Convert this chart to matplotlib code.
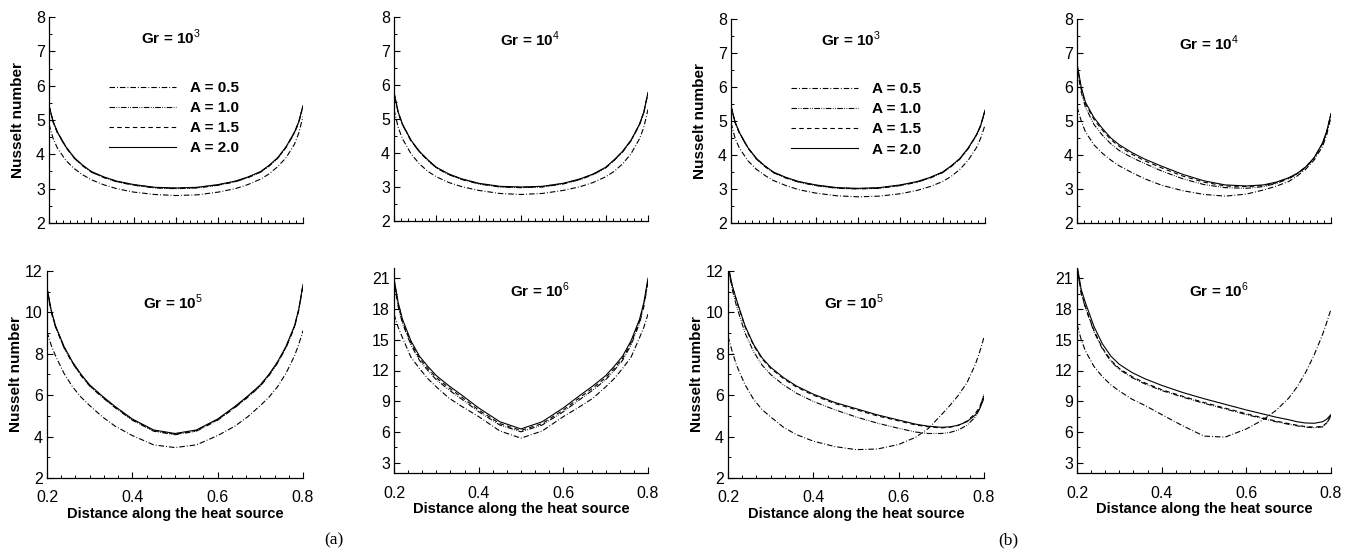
import matplotlib
matplotlib.use("Agg")
import matplotlib.pyplot as plt
from matplotlib.ticker import MultipleLocator, AutoMinorLocator

plt.rcParams["font.family"] = ["Liberation Sans", "DejaVu Sans"]
plt.rcParams["mathtext.fontset"] = "custom"
plt.rcParams["mathtext.rm"] = "Liberation Sans"

# Distance along the heat source (shared by every curve).
x = [0.20, 0.21, 0.22, 0.24, 0.26, 0.28, 0.30, 0.33, 0.36, 0.40, 0.45, 0.50,
     0.55, 0.60, 0.64, 0.67, 0.70, 0.72, 0.74, 0.76, 0.78, 0.79, 0.80]

aspect_labels = ["A = 0.5", "A = 1.0", "A = 1.5", "A = 2.0"]

# (a) Gr = 10^3
a_gr3_a05 = [4.88, 4.45, 4.18, 3.82, 3.58, 3.40, 3.26, 3.11, 3.00, 2.90, 2.83, 2.80,
             2.82, 2.90, 3.00, 3.12, 3.28, 3.43, 3.64, 3.90, 4.30, 4.62, 5.10]
a_gr3_a10 = [5.40, 4.93, 4.62, 4.20, 3.88, 3.66, 3.48, 3.32, 3.20, 3.10, 3.02, 3.00,
             3.02, 3.10, 3.20, 3.32, 3.48, 3.66, 3.88, 4.20, 4.62, 4.93, 5.40]
a_gr3_a15 = [5.41, 4.94, 4.64, 4.21, 3.89, 3.67, 3.49, 3.33, 3.21, 3.11, 3.03, 3.01,
             3.03, 3.11, 3.21, 3.33, 3.49, 3.67, 3.89, 4.21, 4.64, 4.94, 5.41]
a_gr3_a20 = [5.42, 4.95, 4.65, 4.22, 3.90, 3.68, 3.50, 3.34, 3.22, 3.12, 3.04, 3.02,
             3.04, 3.12, 3.22, 3.34, 3.50, 3.68, 3.90, 4.22, 4.65, 4.95, 5.42]

# (a) Gr = 10^4
a_gr4_a05 = [5.28, 4.75, 4.42, 3.98, 3.68, 3.46, 3.30, 3.13, 3.01, 2.90, 2.81, 2.78,
             2.81, 2.90, 3.01, 3.13, 3.30, 3.46, 3.68, 3.98, 4.42, 4.75, 5.28]
a_gr4_a10 = [5.76, 5.18, 4.83, 4.36, 4.03, 3.78, 3.56, 3.36, 3.22, 3.09, 3.00, 2.98,
             3.00, 3.09, 3.22, 3.36, 3.56, 3.78, 4.03, 4.36, 4.83, 5.18, 5.76]
a_gr4_a15 = [5.77, 5.19, 4.84, 4.37, 4.04, 3.79, 3.57, 3.37, 3.23, 3.10, 3.01, 2.99,
             3.01, 3.10, 3.23, 3.37, 3.57, 3.79, 4.04, 4.37, 4.84, 5.19, 5.77]
a_gr4_a20 = [5.78, 5.20, 4.85, 4.38, 4.05, 3.80, 3.58, 3.38, 3.24, 3.11, 3.02, 3.00,
             3.02, 3.11, 3.24, 3.38, 3.58, 3.80, 4.05, 4.38, 4.85, 5.20, 5.78]

# (a) Gr = 10^5
a_gr5_a05 = [9.07, 8.40, 7.90, 7.05, 6.40, 5.90, 5.50, 4.95, 4.50, 4.05, 3.60, 3.47,
             3.60, 4.05, 4.50, 4.95, 5.50, 5.90, 6.40, 7.05, 7.90, 8.45, 9.12]
a_gr5_a10 = [11.1, 10.0, 9.28, 8.28, 7.54, 6.94, 6.44, 5.89, 5.39, 4.79, 4.26, 4.09,
             4.26, 4.79, 5.39, 5.89, 6.44, 6.94, 7.54, 8.28, 9.28, 10.1, 11.3]
a_gr5_a15 = [11.15, 10.05, 9.32, 8.32, 7.57, 6.97, 6.47, 5.92, 5.42, 4.82, 4.29, 4.12,
             4.29, 4.82, 5.42, 5.92, 6.47, 6.97, 7.57, 8.32, 9.32, 10.12, 11.32]
a_gr5_a20 = [11.2, 10.1, 9.35, 8.35, 7.60, 7.00, 6.50, 5.95, 5.45, 4.85, 4.32, 4.15,
             4.32, 4.85, 5.45, 5.95, 6.50, 7.00, 7.60, 8.35, 9.35, 10.15, 11.35]

# (a) Gr = 10^6
a_gr6_a05 = [17.5, 16.2, 15.2, 13.3, 12.2, 11.2, 10.4, 9.3, 8.5, 7.5, 6.1, 5.4,
             6.1, 7.5, 8.5, 9.3, 10.4, 11.2, 12.2, 13.3, 15.2, 16.2, 17.5]
a_gr6_a10 = [20.6, 18.2, 16.6, 14.5, 13.0, 12.0, 11.1, 10.1, 9.2, 7.98, 6.68, 6.02,
             6.68, 7.98, 9.2, 10.1, 11.1, 12.0, 13.0, 14.5, 16.6, 18.2, 20.6]
a_gr6_a15 = [20.8, 18.4, 16.8, 14.7, 13.2, 12.2, 11.3, 10.3, 9.4, 8.15, 6.82, 6.15,
             6.82, 8.15, 9.4, 10.3, 11.3, 12.2, 13.2, 14.7, 16.8, 18.4, 20.8]
a_gr6_a20 = [21.0, 18.6, 17.0, 14.9, 13.4, 12.4, 11.5, 10.5, 9.6, 8.35, 7.0, 6.3,
             7.0, 8.35, 9.6, 10.5, 11.5, 12.4, 13.4, 14.9, 17.0, 18.6, 21.0]

# (b) Gr = 10^3
b_gr3_a05 = [4.95, 4.48, 4.20, 3.83, 3.58, 3.40, 3.25, 3.10, 2.98, 2.88, 2.80, 2.77,
             2.79, 2.86, 2.96, 3.07, 3.22, 3.37, 3.57, 3.84, 4.22, 4.50, 4.88]
b_gr3_a10 = [5.42, 4.94, 4.64, 4.20, 3.88, 3.66, 3.48, 3.32, 3.20, 3.10, 3.02, 3.00,
             3.02, 3.10, 3.20, 3.32, 3.48, 3.66, 3.87, 4.18, 4.58, 4.86, 5.30]
b_gr3_a15 = [5.43, 4.95, 4.65, 4.21, 3.89, 3.67, 3.49, 3.33, 3.21, 3.11, 3.03, 3.01,
             3.03, 3.11, 3.21, 3.33, 3.49, 3.67, 3.88, 4.19, 4.59, 4.87, 5.31]
b_gr3_a20 = [5.44, 4.96, 4.66, 4.22, 3.90, 3.68, 3.50, 3.34, 3.22, 3.12, 3.04, 3.02,
             3.04, 3.12, 3.22, 3.34, 3.50, 3.68, 3.89, 4.20, 4.60, 4.88, 5.32]

# (b) Gr = 10^4
b_gr4_a05 = [5.42, 5.00, 4.68, 4.30, 4.05, 3.85, 3.68, 3.48, 3.30, 3.11, 2.95, 2.84,
             2.79, 2.85, 2.97, 3.08, 3.22, 3.38, 3.58, 3.85, 4.25, 4.60, 5.12]
b_gr4_a10 = [6.55, 5.85, 5.40, 4.90, 4.58, 4.33, 4.13, 3.92, 3.75, 3.53, 3.30, 3.13,
             3.04, 3.02, 3.07, 3.16, 3.30, 3.44, 3.63, 3.90, 4.33, 4.68, 5.20]
b_gr4_a15 = [6.65, 5.95, 5.50, 5.05, 4.73, 4.45, 4.25, 4.02, 3.83, 3.62, 3.38, 3.20,
             3.09, 3.07, 3.10, 3.18, 3.32, 3.45, 3.64, 3.91, 4.34, 4.69, 5.21]
b_gr4_a20 = [6.70, 6.00, 5.55, 5.10, 4.78, 4.50, 4.30, 4.07, 3.88, 3.67, 3.43, 3.24,
             3.12, 3.09, 3.12, 3.20, 3.33, 3.46, 3.65, 3.92, 4.35, 4.70, 5.22]

# (b) Gr = 10^5
b_gr5_a05 = [8.85, 8.10, 7.45, 6.50, 5.80, 5.30, 4.95, 4.45, 4.10, 3.78, 3.52, 3.37,
             3.40, 3.62, 3.97, 4.40, 5.05, 5.50, 6.00, 6.60, 7.50, 8.10, 8.80]
b_gr5_a10 = [12.2, 11.1, 10.3, 9.00, 8.10, 7.45, 7.00, 6.50, 6.10, 5.70, 5.30, 4.95,
             4.65, 4.40, 4.22, 4.15, 4.15, 4.20, 4.32, 4.55, 4.95, 5.35, 6.05]
b_gr5_a15 = [12.25, 11.25, 10.55, 9.30, 8.40, 7.75, 7.30, 6.80, 6.40, 6.00, 5.60, 5.30,
             5.00, 4.76, 4.56, 4.47, 4.42, 4.45, 4.55, 4.75, 5.12, 5.45, 5.98]
b_gr5_a20 = [12.3, 11.3, 10.6, 9.35, 8.45, 7.80, 7.35, 6.85, 6.45, 6.05, 5.65, 5.35,
             5.05, 4.80, 4.60, 4.50, 4.45, 4.47, 4.55, 4.72, 5.05, 5.35, 5.85]

# (b) Gr = 10^6
b_gr6_a05 = [16.5, 15.0, 13.9, 12.4, 11.4, 10.6, 10.0, 9.2, 8.6, 7.7, 6.6, 5.6,
             5.5, 6.3, 7.2, 8.1, 9.3, 10.4, 11.8, 13.5, 15.5, 16.7, 18.0]
b_gr6_a10 = [22.0, 19.5, 18.1, 15.8, 14.1, 12.9, 12.1, 11.3, 10.7, 10.05, 9.4, 8.8,
             8.25, 7.7, 7.3, 7.0, 6.75, 6.6, 6.48, 6.42, 6.5, 6.85, 7.6]
b_gr6_a15 = [22.1, 19.6, 18.2, 15.9, 14.2, 13.0, 12.2, 11.4, 10.8, 10.13, 9.48, 8.88,
             8.33, 7.78, 7.37, 7.07, 6.82, 6.66, 6.53, 6.47, 6.55, 6.9, 7.62]
b_gr6_a20 = [22.3, 19.9, 18.6, 16.3, 14.6, 13.4, 12.6, 11.8, 11.2, 10.55, 9.85, 9.25,
             8.7, 8.15, 7.75, 7.45, 7.2, 7.0, 6.88, 6.85, 7.0, 7.25, 7.7]

# Line styles: dash-dot, dash-dot-dot, dashed, solid.
line_styles = [
    (0, (5, 1.8, 0.8, 1.8)),
    (0, (5, 1.3, 0.7, 1.3, 0.7, 1.3)),
    (0, (4, 3)),
    "-",
]

# Panel boxes in pixels (left, top, right, bottom) of a 1355x555 figure.
W, H = 1355, 555
panels = [
    # box, curves, Gr exponent, text x, text y, row
    ((49, 17, 303, 223), [a_gr3_a05, a_gr3_a10, a_gr3_a15, a_gr3_a20], 3, 0.48, 0.90, "top"),
    ((394, 17, 648, 221), [a_gr4_a05, a_gr4_a10, a_gr4_a15, a_gr4_a20], 4, 0.535, 0.89, "top"),
    ((47, 271, 303, 478), [a_gr5_a05, a_gr5_a10, a_gr5_a15, a_gr5_a20], 5, 0.49, 0.85, "left"),
    ((394, 268, 648, 473), [a_gr6_a05, a_gr6_a10, a_gr6_a15, a_gr6_a20], 6, 0.575, 0.89, "right"),
    ((731, 19, 985, 223), [b_gr3_a05, b_gr3_a10, b_gr3_a15, b_gr3_a20], 3, 0.47, 0.90, "top"),
    ((1077, 19, 1331, 223), [b_gr4_a05, b_gr4_a10, b_gr4_a15, b_gr4_a20], 4, 0.52, 0.88, "top"),
    ((728, 271, 984, 478), [b_gr5_a05, b_gr5_a10, b_gr5_a15, b_gr5_a20], 5, 0.49, 0.85, "left"),
    ((1077, 268, 1331, 473), [b_gr6_a05, b_gr6_a10, b_gr6_a15, b_gr6_a20], 6, 0.56, 0.89, "right"),
]

fig = plt.figure(figsize=(W / 100, H / 100), dpi=100)

for i, (box, curves, gr, tx, ty, row) in enumerate(panels):
    l, t, r, b = box
    ax = fig.add_axes([l / W, (H - b) / H, (r - l) / W, (b - t) / H])

    for vals, ls, lab in zip(curves, line_styles, aspect_labels):
        ax.plot(x, vals, color="black", lw=0.8, linestyle=ls, label=lab)

    ax.set_xlim(0.2, 0.8)
    if row == "top":
        ax.set_ylim(2, 8)
        ax.yaxis.set_major_locator(MultipleLocator(1))
        ax.yaxis.set_minor_locator(MultipleLocator(0.5))
        ax.xaxis.set_major_locator(MultipleLocator(0.1))
        ax.xaxis.set_minor_locator(AutoMinorLocator(6))
        ax.set_xticklabels([])
    else:
        if row == "left":
            ax.set_ylim(2, 12)
            ax.yaxis.set_major_locator(MultipleLocator(2))
            ax.yaxis.set_minor_locator(MultipleLocator(1))
        else:
            ax.set_ylim(2, 22)
            ax.set_yticks([3, 6, 9, 12, 15, 18, 21])
            ax.yaxis.set_minor_locator(MultipleLocator(1.5))
        ax.set_xticks([0.2, 0.4, 0.6, 0.8])
        ax.set_xticklabels(["0.2", "0.4", "0.6", "0.8"])
        ax.xaxis.set_minor_locator(AutoMinorLocator(6))
        ax.set_xlabel("Distance along the heat source", fontsize=10.5, fontweight="bold")
        ax.xaxis.set_label_coords(0.5, -0.14)

    # Tecplot-like axes: inward ticks, only left and bottom lines.
    ax.spines["top"].set_visible(False)
    ax.spines["right"].set_visible(False)
    for side in ("left", "bottom"):
        ax.spines[side].set_linewidth(0.9)
    ax.tick_params(which="major", direction="in", length=4.5, width=0.8,
                   labelsize=11.5, top=False, right=False)
    ax.tick_params(which="minor", direction="in", length=2.5, width=0.7,
                   top=False, right=False)
    ax.tick_params(axis="x", pad=9)
    ax.tick_params(axis="y", pad=3)

    if i in (0, 2, 4, 6):
        ax.set_ylabel("Nusselt number", fontsize=11, fontweight="bold")
        ax.yaxis.set_label_coords(-24 / (r - l), 0.5)

    ax.text(tx, ty, "Gr = 10$^{%d}$" % gr, transform=ax.transAxes,
            ha="center", va="center", fontsize=11, fontweight="bold")

    if i in (0, 4):
        ax.legend(loc="upper left", bbox_to_anchor=(0.235, 0.69), frameon=False,
                  handlelength=4.4, handletextpad=0.9, labelspacing=0.40,
                  borderpad=0, borderaxespad=0,
                  prop={"size": 11, "weight": "bold"})

fig.text(334 / W, 1 - 540 / H, "(a)", ha="center", va="center",
         fontsize=12.5, family="Liberation Serif")
fig.text(1008 / W, 1 - 540 / H, "(b)", ha="center", va="center",
         fontsize=12.5, family="Liberation Serif")

fig.savefig("out.png", dpi=100)
